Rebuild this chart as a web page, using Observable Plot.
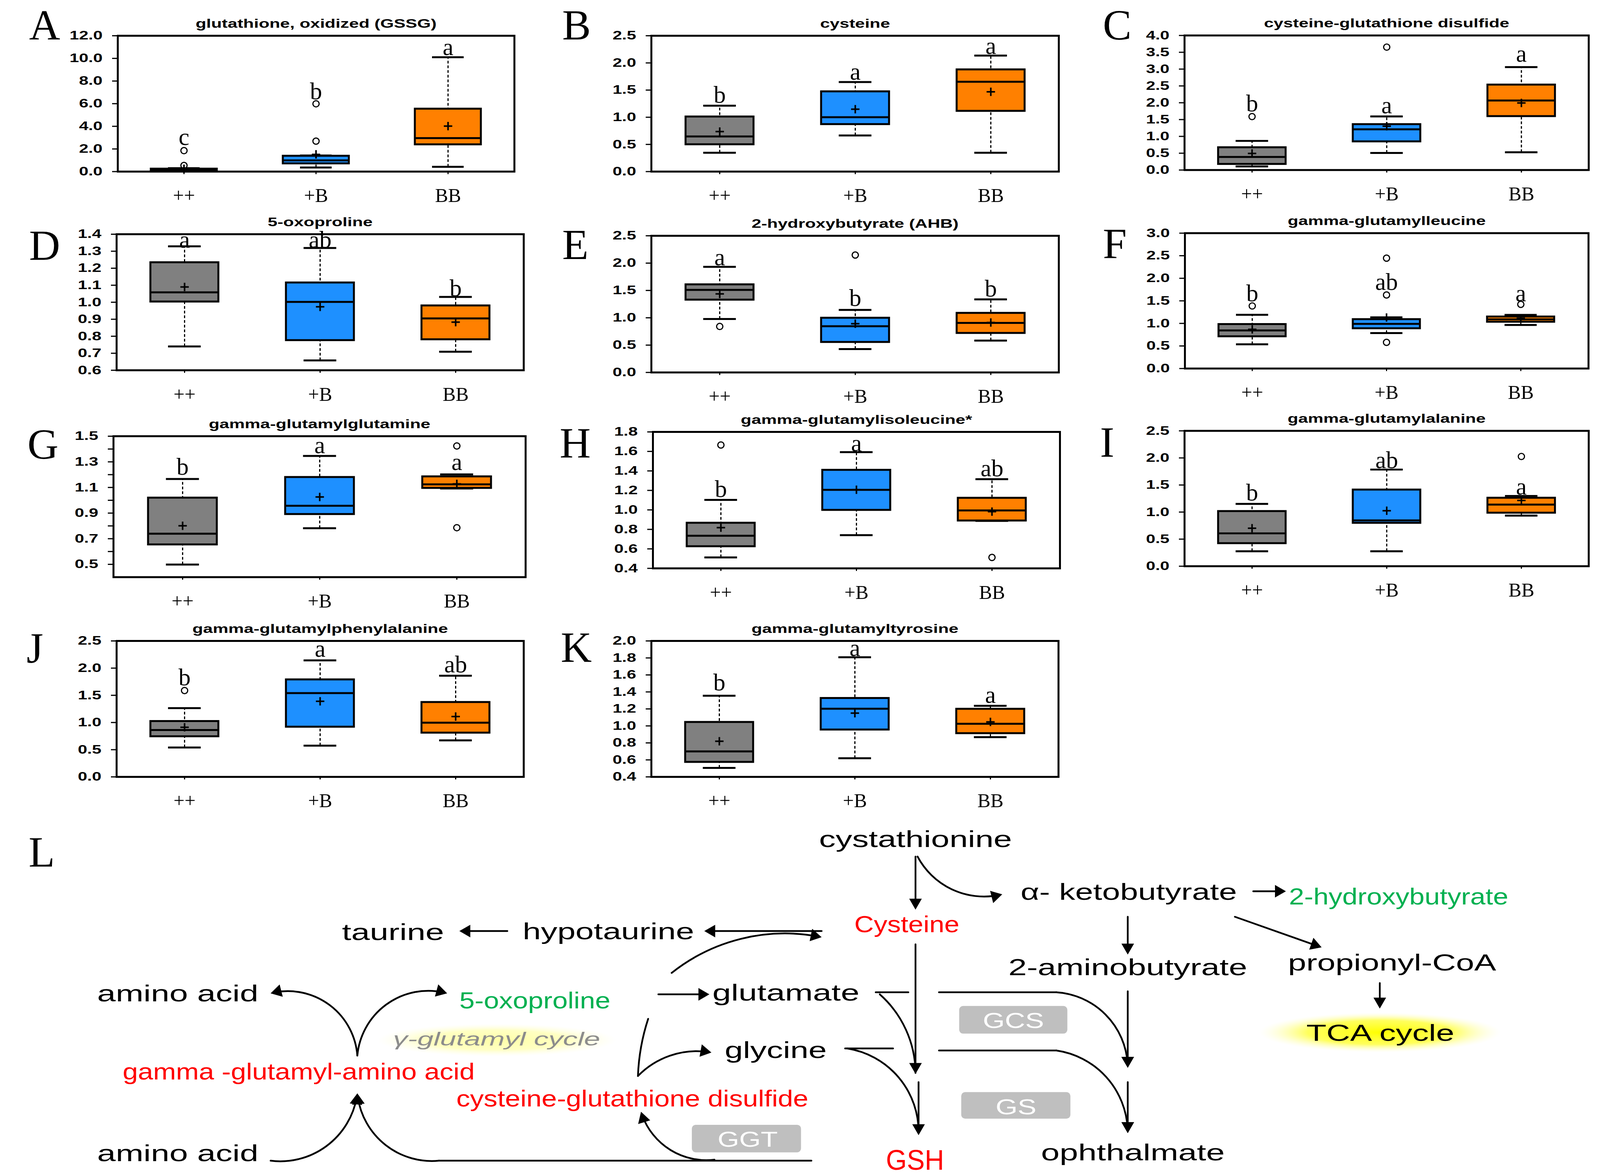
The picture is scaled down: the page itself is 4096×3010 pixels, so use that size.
<!DOCTYPE html>
<html>
<head>
<meta charset="utf-8">
<script src="https://cdn.jsdelivr.net/npm/d3@7"></script>
<script src="https://cdn.jsdelivr.net/npm/@observablehq/plot@0.6"></script>
<style>
html, body { margin: 0; padding: 0; background: #fff; }
#root { position: relative; width: 4096px; height: 3010px; overflow: hidden; background: #fff; }
.panel { position: absolute; }
</style>
</head>
<body>
<svg width="0" height="0" style="position:absolute">
  <defs>
    <radialGradient id="glowTCA" cx="50%" cy="50%" r="50%">
      <stop offset="0%" stop-color="#ffff00" stop-opacity="1"/>
      <stop offset="60%" stop-color="#ffff40" stop-opacity="0.85"/>
      <stop offset="100%" stop-color="#ffffc8" stop-opacity="0"/>
    </radialGradient>
    <radialGradient id="glowCycle" cx="50%" cy="50%" r="50%">
      <stop offset="0%" stop-color="#ffffa8" stop-opacity="1"/>
      <stop offset="60%" stop-color="#ffffb8" stop-opacity="0.85"/>
      <stop offset="100%" stop-color="#ffffe0" stop-opacity="0"/>
    </radialGradient>
  </defs>
</svg>
<div id="root"></div>
<script>
// ---------------- DATA ----------------
const groups = ["++", "+B", "BB"];
const panelIds = ["A", "B", "C", "D", "E", "F", "G", "H", "I", "J", "K"];
const titles = [
  "glutathione, oxidized (GSSG)", "cysteine", "cysteine-glutathione disulfide",
  "5-oxoproline", "2-hydroxybutyrate (AHB)", "gamma-glutamylleucine",
  "gamma-glutamylglutamine", "gamma-glutamylisoleucine*", "gamma-glutamylalanine",
  "gamma-glutamylphenylalanine", "gamma-glutamyltyrosine"
];
// per panel: [++, +B, BB]
const whiskerLow = [
  [0.02, 0.36, 0.42], [0.347, 0.665, 0.347], [0.107, 0.508, 0.528], [0.740, 0.658, 0.709],
  [0.978, 0.427, 0.582], [0.536, 0.785, 0.966], [0.498, 0.782, 1.092], [0.512, 0.741, 0.887],
  [0.276, 0.276, 0.934], [0.540, 0.575, 0.671], [0.506, 0.619, 0.868]
];
const q1 = [
  [0.05, 0.71, 2.39], [0.499, 0.87, 1.114], [0.175, 0.846, 1.597], [1.003, 0.776, 0.781],
  [1.328, 0.554, 0.719], [0.710, 0.888, 1.033], [0.654, 0.891, 1.095], [0.625, 0.998, 0.889],
  [0.422, 0.798, 0.985], [0.743, 0.919, 0.810], [0.574, 0.955, 0.912]
];
const median = [
  [0.10, 0.99, 2.96], [0.647, 1.0, 1.654], [0.389, 1.211, 2.066], [1.058, 1.002, 0.905],
  [1.510, 0.846, 0.906], [0.845, 0.989, 1.090], [0.739, 0.957, 1.124], [0.735, 1.206, 0.994],
  [0.607, 0.846, 1.139], [0.862, 1.541, 0.996], [0.700, 1.202, 1.025]
];
const q3 = [
  [0.24, 1.38, 5.54], [1.01, 1.473, 1.877], [0.671, 1.358, 2.534], [1.234, 1.115, 0.980],
  [1.608, 0.997, 1.086], [0.981, 1.090, 1.148], [1.019, 1.180, 1.185], [0.866, 1.409, 1.122],
  [1.015, 1.412, 1.261], [1.023, 1.789, 1.373], [1.044, 1.326, 1.199]
];
const whiskerHigh = [
  [0.30, 1.42, 10.1], [1.213, 1.647, 2.135], [0.866, 1.593, 3.059], [1.329, 1.319, 1.031],
  [1.932, 1.143, 1.337], [1.191, 1.134, 1.188], [1.166, 1.346, 1.202], [1.103, 1.593, 1.315],
  [1.151, 1.785, 1.298], [1.264, 2.143, 1.861], [1.355, 1.808, 1.237]
];
const means = [
  [0.25, 1.52, 4.02], [0.737, 1.148, 1.468], [0.493, 1.303, 1.994], [1.090, 0.973, 0.883],
  [1.436, 0.892, 0.913], [0.868, 1.131, 1.113], [0.801, 1.026, 1.128], [0.818, 1.207, 0.982],
  [0.702, 1.024, 1.215], [0.912, 1.390, 1.110], [0.819, 1.150, 1.047]
];
const letters = [
  ["c", "b", "a"], ["b", "a", "a"], ["b", "a", "a"], ["a", "ab", "b"], ["a", "b", "b"], ["b", "ab", "a"],
  ["b", "a", "a"], ["b", "a", "ab"], ["b", "ab", "a"], ["b", "a", "ab"], ["b", "a", "a"]
];
const letterY = [
  [2.36, 6.4, 10.3], [1.27, 1.69, 2.165], [1.75, 1.69, 3.22], [1.321, 1.321, 1.036],
  [1.96, 1.218, 1.385], [1.494, 1.739, 1.494], [1.201, 1.367, 1.235], [1.132, 1.60, 1.346],
  [1.215, 1.812, 1.324], [1.687, 2.208, 1.923], [1.416, 1.821, 1.269]
];
// outliers: [group index, value]
const outliers = [
  [[0, 0.54], [0, 1.85], [1, 2.69], [1, 5.99]],
  [],
  [[0, 1.589], [1, 3.654]],
  [],
  [[0, 0.841], [1, 2.148]],
  [[0, 1.387], [1, 1.630], [1, 2.446], [1, 0.58], [2, 1.422]],
  [[2, 1.424], [2, 0.786]],
  [[0, 1.666], [2, 0.512]],
  [[2, 2.027]],
  [[0, 1.588]],
  []
];
const yTicks = [
  ["0.0", "2.0", "4.0", "6.0", "8.0", "10.0", "12.0"],
  ["0.0", "0.5", "1.0", "1.5", "2.0", "2.5"],
  ["0.0", "0.5", "1.0", "1.5", "2.0", "2.5", "3.0", "3.5", "4.0"],
  ["0.6", "0.7", "0.8", "0.9", "1.0", "1.1", "1.2", "1.3", "1.4"],
  ["0.0", "0.5", "1.0", "1.5", "2.0", "2.5"],
  ["0.0", "0.5", "1.0", "1.5", "2.0", "2.5", "3.0"],
  ["0.5", "0.7", "0.9", "1.1", "1.3", "1.5"],
  ["0.4", "0.6", "0.8", "1.0", "1.2", "1.4", "1.6", "1.8"],
  ["0.0", "0.5", "1.0", "1.5", "2.0", "2.5"],
  ["0.0", "0.5", "1.0", "1.5", "2.0", "2.5"],
  ["0.4", "0.6", "0.8", "1.0", "1.2", "1.4", "1.6", "1.8", "2.0"]
];
const minorTicks = { G: ["0.6", "0.8", "1.0", "1.2", "1.4"] };
const yDomains = [
  [0, 12], [0, 2.5], [0, 4], [0.6, 1.4], [0, 2.5], [0, 3],
  [0.4, 1.5], [0.4, 1.8], [0, 2.5], [0, 2.5], [0.4, 2.0]
];
const panelLetters = ["A", "B", "C", "D", "E", "F", "G", "H", "I", "J", "K", "L"];

// Pathway diagram (panel L), coordinates in diagram units
const pathwayNodes = [
  { t: "cystathionine", x: 897, y: 829.6, w: 189, kind: "main" },
  { t: "α- ketobutyrate", x: 1106, y: 881.4, w: 212, kind: "main" },
  { t: "2-hydroxybutyrate", x: 1370.5, y: 886, w: 215, kind: "green" },
  { t: "Cysteine", x: 888.5, y: 913, w: 103, kind: "red" },
  { t: "taurine", x: 385, y: 920.7, w: 100, kind: "main" },
  { t: "hypotaurine", x: 596, y: 920.2, w: 168, kind: "main" },
  { t: "2-aminobutyrate", x: 1105, y: 955.2, w: 234, kind: "main" },
  { t: "propionyl-CoA", x: 1364, y: 950.7, w: 204, kind: "main" },
  { t: "amino acid", x: 174, y: 980.7, w: 158, kind: "main" },
  { t: "5-oxoproline", x: 524, y: 987.9, w: 148, kind: "green" },
  { t: "glutamate", x: 770, y: 980, w: 144, kind: "main" },
  { t: "TCA cycle", x: 1352.5, y: 1019.5, w: 145, kind: "main" },
  { t: "γ-glutamyl cycle", x: 486.5, y: 1024, w: 203, kind: "cycle" },
  { t: "glycine", x: 760, y: 1036.4, w: 100, kind: "main" },
  { t: "gamma -glutamyl-amino acid", x: 292.5, y: 1057.3, w: 345, kind: "red" },
  { t: "cysteine-glutathione disulfide", x: 619.5, y: 1083.7, w: 345, kind: "red" },
  { t: "amino acid", x: 174, y: 1137.4, w: 158, kind: "main" },
  { t: "GSH", x: 896.5, y: 1145.8, w: 57, kind: "gsh" },
  { t: "ophthalmate", x: 1110, y: 1136.7, w: 180, kind: "main" },
  { t: "GCS", x: 993, y: 1007, w: 60, kind: "enzyme" },
  { t: "GS", x: 995.5, y: 1091.6, w: 40, kind: "enzyme" },
  { t: "GGT", x: 732.5, y: 1123.2, w: 59, kind: "enzyme" }
];
const pathwayEnzymes = [
  { x1: 940, x2: 1046, y1: 985.6, y2: 1012.7 },
  { x1: 942, x2: 1049, y1: 1070, y2: 1096 },
  { x1: 678, x2: 785, y1: 1102, y2: 1129 }
];
const pathwayGlows = [
  { x1: 1234, x2: 1471, y1: 992, y2: 1031 },
  { x1: 370, x2: 604, y1: 1003, y2: 1035 }
];
const pathwayEdges = [
  { x1: 897, y1: 839, x2: 897, y2: 891, bend: 0, head: true },
  { x1: 899, y1: 839, x2: 982, y2: 876, bend: -38, head: true },
  { x1: 1228, y1: 873, x2: 1260, y2: 873, bend: 0, head: true },
  { x1: 1105, y1: 898, x2: 1105, y2: 935, bend: 0, head: true },
  { x1: 1210, y1: 898, x2: 1295, y2: 928, bend: 0, head: true },
  { x1: 1352, y1: 963, x2: 1352, y2: 988, bend: 0, head: true },
  { x1: 805, y1: 912, x2: 690, y2: 912, bend: 0, head: true },
  { x1: 497, y1: 912, x2: 450, y2: 912, bend: 0, head: true },
  { x1: 658, y1: 953, x2: 805, y2: 918, bend: 25, head: true },
  { x1: 897, y1: 925, x2: 897, y2: 1052, bend: 0, head: true },
  { x1: 900, y1: 1060, x2: 900, y2: 1112, bend: 0, head: true },
  { x1: 645, y1: 974, x2: 695, y2: 974, bend: 0, head: true },
  { x1: 858, y1: 972, x2: 890, y2: 972, bend: 0, head: false },
  { x1: 862, y1: 974, x2: 897, y2: 1051, bend: 24, head: false },
  { x1: 828, y1: 1027, x2: 875, y2: 1027, bend: 0, head: false },
  { x1: 830, y1: 1027, x2: 900, y2: 1110, bend: 41, head: false },
  { x1: 920, y1: 972, x2: 1035, y2: 972, bend: 0, head: false },
  { x1: 1035, y1: 972, x2: 1105, y2: 1046, bend: 43, head: true },
  { x1: 1105, y1: 971, x2: 1105, y2: 1046, bend: 0, head: true },
  { x1: 920, y1: 1029, x2: 1035, y2: 1029, bend: 0, head: false },
  { x1: 1035, y1: 1029, x2: 1105, y2: 1110, bend: 41, head: true },
  { x1: 1105, y1: 1060, x2: 1105, y2: 1110, bend: 0, head: true },
  { x1: 625, y1: 1054, x2: 697, y2: 1031, bend: 28, head: true },
  { x1: 625, y1: 1054, x2: 635, y2: 998, bend: 8, head: false },
  { x1: 350, y1: 1034, x2: 265, y2: 973, bend: -50, head: true },
  { x1: 350, y1: 1034, x2: 438, y2: 973, bend: 50, head: true },
  { x1: 265, y1: 1137, x2: 350, y2: 1071, bend: -45, head: true },
  { x1: 430, y1: 1137, x2: 350, y2: 1071, bend: 45, head: true },
  { x1: 430, y1: 1137, x2: 795, y2: 1137, bend: 0, head: false },
  { x1: 700, y1: 1136, x2: 628, y2: 1089, bend: 40, head: true }
];

// ---------------- LAYOUT / STYLE ----------------
const S = 4096 / 1568;
const groupColors = ["#808080", "#1e90ff", "#ff8000"];
// frames [left, right, top, bottom] in reference (1568-wide) pixels
const panelFrames = [
  [115.3, 504.0, 35.0, 168.1], [638.0, 1037.3, 35.0, 168.1], [1160.9, 1559.6, 35.0, 167.7],
  [114.2, 513.2, 229.2, 362.5], [638.0, 1037.3, 230.7, 364.6], [1161.5, 1559.6, 228.5, 362.0],
  [110.9, 514.8, 427.3, 565.4], [639.7, 1038.6, 423.1, 556.8], [1160.9, 1559.6, 422.2, 555.7],
  [114.2, 513.2, 627.9, 761.1], [638.0, 1037.0, 627.9, 761.1]
];
const letterPos = [
  [28.5, 38.8], [551, 38.8], [1080.8, 38.8], [28.5, 254.7], [551, 253.8], [1080.8, 253.2],
  [26.9, 449.6], [548.5, 448.3], [1078, 447.5], [26, 649.4], [549.5, 648.3], [28, 849.2]
];
const nodeStyles = {
  main: { fill: "black", fontSize: 60 },
  red: { fill: "#ff0000", fontSize: 60 },
  green: { fill: "#00b050", fontSize: 60 },
  gsh: { fill: "#ff0000", fontSize: 72 },
  cycle: { fill: "#8c8c8c", fontSize: 48, fontStyle: "italic" },
  enzyme: { fill: "white", fontSize: 56 }
};

const root = document.getElementById("root");

function stretchSans(svg, f) {
  svg.querySelectorAll("text").forEach(el => {
    const holder = el.closest("[font-family]");
    const ff = holder ? holder.getAttribute("font-family") : "";
    if (/Serif/.test(ff)) return;
    const w = el.getComputedTextLength();
    if (w > 0) {
      el.setAttribute("textLength", (w * f).toFixed(1));
      el.setAttribute("lengthAdjust", "spacingAndGlyphs");
    }
  });
}

panelIds.forEach((id, i) => {
  const [fl, fr, ft, fb] = panelFrames[i].map(v => v * S);
  const ml = 170, mr = 30, mt = 110, mb = 120;
  const W = fr - fl, H = fb - ft;
  const step = W / 3;
  const inset = 0.13 * step;
  const rows = groups.map((g, j) => ({
    g, lo: whiskerLow[i][j], q1: q1[i][j], med: median[i][j], q3: q3[i][j],
    hi: whiskerHigh[i][j], mean: means[i][j], letter: letters[i][j], ly: letterY[i][j]
  }));
  const outs = outliers[i].map(([j, v]) => ({ g: groups[j], v }));
  const major = yTicks[i].map(Number);
  const minor = (minorTicks[id] || []).map(Number);
  const labelOf = new Map(yTicks[i].map(s => [Number(s), s]));

  const plot = Plot.plot({
    width: W + ml + mr, height: H + mt + mb,
    marginLeft: ml, marginRight: mr, marginTop: mt, marginBottom: mb,
    x: { domain: groups, paddingInner: 0.5, paddingOuter: 0.25, align: 0.5 },
    y: { domain: yDomains[i] },
    color: { domain: groups, range: groupColors },
    style: { fontFamily: "Liberation Sans", fontSize: "31px", fontWeight: "bold", background: "none", overflow: "visible", color: "black" },
    marks: [
      Plot.ruleX(rows, { x: "g", y1: "lo", y2: "hi", stroke: "black", strokeWidth: 3, strokeDasharray: "7,5" }),
      Plot.barY(rows, { x: "g", y1: "q1", y2: "q3", fill: "g", stroke: "black", strokeWidth: 5 }),
      Plot.tickY(rows, { x: "g", y: "med", stroke: "black", strokeWidth: 5 }),
      Plot.tickY(rows, { x: "g", y: "lo", stroke: "black", strokeWidth: 5, insetLeft: inset, insetRight: inset }),
      Plot.tickY(rows, { x: "g", y: "hi", stroke: "black", strokeWidth: 5, insetLeft: inset, insetRight: inset }),
      Plot.dot(rows, { x: "g", y: "mean", symbol: "plus", r: 7, stroke: "black", strokeWidth: 4 }),
      Plot.dot(outs, { x: "g", y: "v", r: 8, stroke: "black", strokeWidth: 3, fill: "none" }),
      Plot.text(rows, { x: "g", y: "ly", text: "letter", lineAnchor: "bottom", fontFamily: "Liberation Serif", fontSize: 62, fontWeight: "normal", fill: "black" }),
      Plot.frame({ stroke: "black", strokeWidth: 5 }),
      Plot.axisY({ ticks: major.concat(minor), tickFormat: d => labelOf.get(d) ?? "", tickSize: 14, tickPadding: 25, strokeWidth: 3, label: null, fontSize: 31, fontWeight: "bold", fontFamily: "Liberation Sans" }),
      Plot.axisX({ tickSize: 7, tickPadding: 35.5, strokeWidth: 3, label: null, fontFamily: "Liberation Serif", fontSize: 50, fontWeight: "normal" }),
      Plot.text([titles[i]], { frameAnchor: "top", dy: -31, lineAnchor: "middle", fontSize: 32, fontWeight: "bold", fontFamily: "Liberation Sans", fill: "black" })
    ]
  });
  const div = document.createElement("div");
  div.className = "panel";
  div.style.left = (fl - ml) + "px";
  div.style.top = (ft - mt) + "px";
  div.appendChild(plot);
  root.appendChild(div);
  stretchSans(plot, 1.4);
});

// ---------------- Panel L: pathway ----------------
const dTop = 800, dBottom = 1152;
const headR = 12;
// d3 triangle: centroid-to-apex distance
const headApex = 2 * Math.sqrt(Math.PI * headR * headR / (3 * Math.sqrt(3)));
// filled arrowheads oriented along the end tangent of each (possibly bent) arrow
const heads = pathwayEdges.filter(e => e.head).map(e => {
  const th = Math.atan2((e.y2 - e.y1), (e.x2 - e.x1)) + e.bend * Math.PI / 180;
  return {
    x: e.x2 - headApex * Math.cos(th) / S,
    y: e.y2 - headApex * Math.sin(th) / S,
    rot: th * 180 / Math.PI + 90
  };
});
const diagram = Plot.plot({
  width: 4096, height: Math.round((dBottom - dTop) * S), margin: 0,
  x: { domain: [0, 1568], range: [0, 4096], axis: null },
  y: { domain: [dTop, dBottom], range: [0, (dBottom - dTop) * S], axis: null },
  style: { fontFamily: "Liberation Sans", background: "none", overflow: "visible", color: "black" },
  marks: [
    Plot.rect([pathwayGlows[0]], { x1: "x1", x2: "x2", y1: "y1", y2: "y2", fill: "url(#glowTCA)" }),
    Plot.rect([pathwayGlows[1]], { x1: "x1", x2: "x2", y1: "y1", y2: "y2", fill: "url(#glowCycle)" }),
    Plot.rect(pathwayEnzymes, { x1: "x1", x2: "x2", y1: "y1", y2: "y2", fill: "#bfbfbf", rx: 10 }),
    ...pathwayEdges.map(e => Plot.arrow([e], {
      x1: "x1", y1: "y1", x2: "x2", y2: "y2", bend: e.bend, headLength: 0,
      insetEnd: e.head ? 10 : 0, stroke: "black", strokeWidth: 4.5
    })),
    Plot.dot(heads, { x: "x", y: "y", rotate: "rot", symbol: "triangle", r: headR, fill: "black", stroke: "none" }),
    ...pathwayNodes.map(n => Plot.text([n], {
      x: "x", y: "y", text: "t", lineAnchor: "bottom", fontFamily: "Liberation Sans",
      ...nodeStyles[n.kind]
    }))
  ]
});
const ddiv = document.createElement("div");
ddiv.className = "panel";
ddiv.style.left = "0px";
ddiv.style.top = (dTop * S) + "px";
ddiv.appendChild(diagram);
root.appendChild(ddiv);
diagram.querySelectorAll('g[aria-label="text"] text').forEach((el, k) => {
  const n = pathwayNodes[k];
  if (!n) return;
  el.setAttribute("textLength", (n.w * S).toFixed(1));
  el.setAttribute("lengthAdjust", "spacingAndGlyphs");
});

// ---------------- Panel letters ----------------
const letterSvg = d3.create("svg")
  .attr("width", 4096).attr("height", 3010)
  .style("position", "absolute").style("left", "0px").style("top", "0px")
  .style("pointer-events", "none");
panelLetters.forEach((L, k) => {
  letterSvg.append("text")
    .attr("x", letterPos[k][0] * S)
    .attr("y", letterPos[k][1] * S)
    .attr("font-family", "Liberation Serif")
    .attr("font-size", 110)
    .attr("fill", "black")
    .text(L);
});
root.appendChild(letterSvg.node());
</script>
</body>
</html>
